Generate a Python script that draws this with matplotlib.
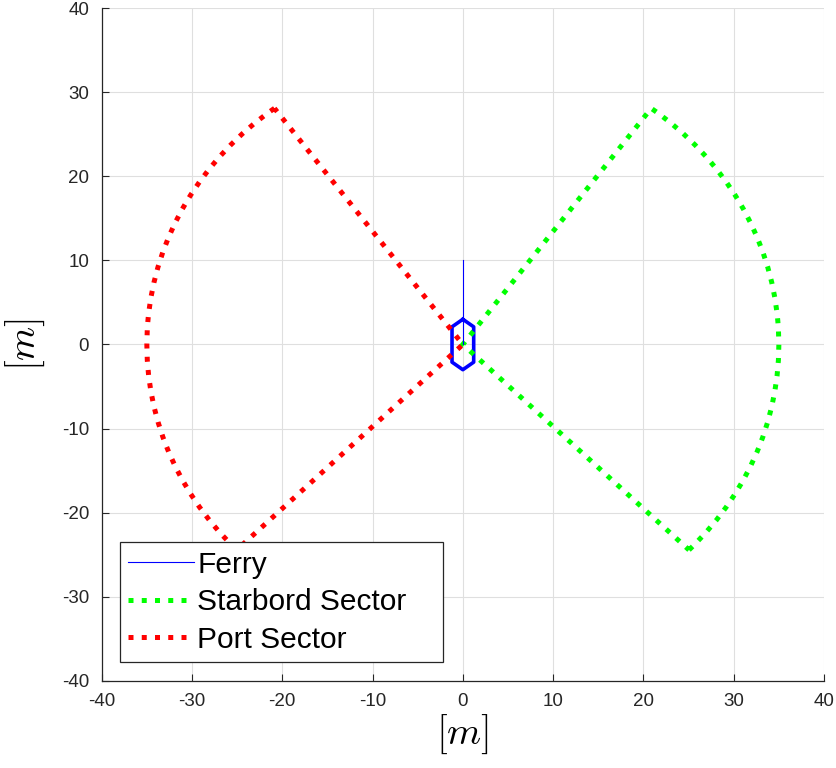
import matplotlib
matplotlib.use('Agg')
import matplotlib.pyplot as plt
from matplotlib.patches import Wedge
from matplotlib.lines import Line2D

plt.rcParams['font.family'] = ['Liberation Sans', 'DejaVu Sans']
plt.rcParams['mathtext.fontset'] = 'cm'
plt.rcParams['axes.unicode_minus'] = False

# sector geometry (radius in m, angles in deg from +x, counter-clockwise)
SECTOR_R = 35.0
STARBOARD_ANGLES = (-44.3, 53.4)
PORT_ANGLES = (126.6, 224.3)

# ferry hull outline and heading marker
HULL_X = [0.0, 1.2, 1.2, 0.0, -1.2, -1.2, 0.0]
HULL_Y = [3.0, 2.1, -2.1, -3.0, -2.1, 2.1, 3.0]
HEADING_X = [0.0, 0.0]
HEADING_Y = [0.0, 10.0]

TICKS = list(range(-40, 41, 10))
DARK = '#262626'

fig = plt.figure(figsize=(8.36, 7.68), dpi=100)
ax = fig.add_axes([0.1217, 0.1137, 0.8639, 0.8755])

ferry, = ax.plot(HEADING_X, HEADING_Y, color='#0000ff', lw=0.8, zorder=4, label='Ferry')
ax.plot(HULL_X, HULL_Y, color='#0000ff', lw=2.6, zorder=2)

sb = Wedge((0, 0), SECTOR_R, *STARBOARD_ANGLES, fill=False, edgecolor='#00ff00',
           lw=3.6, linestyle=':', zorder=3)
pt = Wedge((0, 0), SECTOR_R, *PORT_ANGLES, fill=False, edgecolor='#ff0000',
           lw=3.6, linestyle=':', zorder=3)
ax.add_patch(sb)
ax.add_patch(pt)

ax.set_xlim(-40, 40)
ax.set_ylim(-40, 40)
ax.set_xticks(TICKS)
ax.set_yticks(TICKS)
ax.set_xticklabels([str(t) for t in TICKS])
ax.set_yticklabels([str(t) for t in TICKS])
ax.tick_params(direction='in', length=5, width=0.8, color=DARK, labelcolor=DARK,
               labelsize=13.5, pad=9)
ax.grid(True, color='#dfdfdf', lw=0.8)
ax.set_axisbelow(True)
for side in ('top', 'right'):
    ax.spines[side].set_visible(False)
for side in ('left', 'bottom'):
    ax.spines[side].set_color(DARK)
    ax.spines[side].set_linewidth(0.9)

ax.set_xlabel(r'$[m]$', fontsize=28, labelpad=2)
ax.set_ylabel(r'$[m]$', fontsize=28, labelpad=11)

handles = [
    ferry,
    Line2D([], [], color='#00ff00', lw=3.6, linestyle=':'),
    Line2D([], [], color='#ff0000', lw=3.6, linestyle=':'),
]
leg = ax.legend(handles, ['Ferry', 'Starbord Sector', 'Port Sector'],
                loc='lower left', bbox_to_anchor=(0.0253, 0.0278, 0.4466, 0.18),
                mode='expand', borderaxespad=0, fontsize=21.5, fancybox=False,
                edgecolor=DARK, framealpha=1, handlelength=2.2, handletextpad=0.1,
                labelspacing=0.32, borderpad=0.28)
leg.get_frame().set_linewidth(0.9)

fig.savefig('out.png', dpi=100)
